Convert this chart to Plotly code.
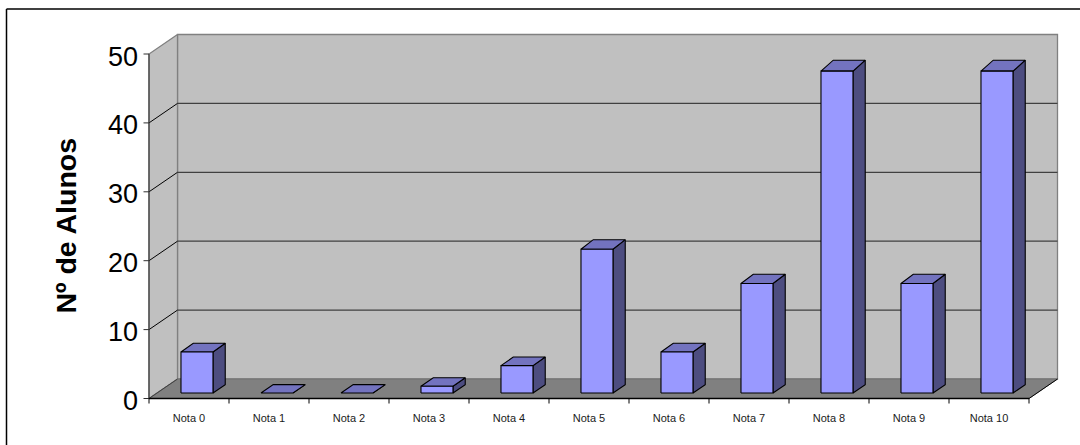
import plotly.graph_objects as go

# Chart data
categories = ["Nota 0", "Nota 1", "Nota 2", "Nota 3", "Nota 4", "Nota 5",
              "Nota 6", "Nota 7", "Nota 8", "Nota 9", "Nota 10"]
students = [6, 0, 0, 1, 4, 21, 6, 16, 47, 16, 47]
value_ticks = [0, 10, 20, 30, 40, 50]
axis_title = "Nº de Alunos"

# Pixel frame of the plotting region; the origin of the box sits inside it
WIDTH, HEIGHT = 1080, 445
LEFT, RIGHT, TOP, BOTTOM = 135.0, 1065.0, 25.0, 410.0
ORIGIN_X, ORIGIN_Y = 149.0, 398.5
PX_PER_CAT = 80.0
PX_PER_UNIT = 6.89

x_edge = -0.5
x_min = x_edge - (ORIGIN_X - LEFT) / PX_PER_CAT
x_max = x_edge + (RIGHT - ORIGIN_X) / PX_PER_CAT
y_min = -(BOTTOM - ORIGIN_Y) / PX_PER_UNIT
y_max = (ORIGIN_Y - TOP) / PX_PER_UNIT

# Oblique depth of the box, in axis units
DEPTH_X = 28.5 / PX_PER_CAT
DEPTH_Y = 19.5 / PX_PER_UNIT
# Bars sit part way into the depth of the floor
BAR_NEAR = 0.28
BAR_FAR = 0.71
BAR_WIDTH = 32.0 / PX_PER_CAT
# Slight perspective: near edges of a bar read shorter than far edges
NEAR_SCALE = 0.994
FAR_SCALE = 1.002
X_END = len(categories) - 0.5


def polygons(items):
    xs, ys = [], []
    for poly in items:
        for px, py in poly:
            xs.append(px)
            ys.append(py)
        xs.append(poly[0][0])
        ys.append(poly[0][1])
        xs.append(None)
        ys.append(None)
    return xs, ys


def fill_trace(items, fill, line_color, line_width=1.0):
    xs, ys = polygons(items)
    return go.Scatter(x=xs, y=ys, mode="lines", fill="toself", fillcolor=fill,
                      line=dict(color=line_color, width=line_width),
                      hoverinfo="skip", showlegend=False)


def line_trace(segments, color, width=1.0):
    xs, ys = [], []
    for seg in segments:
        for px, py in seg:
            xs.append(px)
            ys.append(py)
        xs.append(None)
        ys.append(None)
    return go.Scatter(x=xs, y=ys, mode="lines", line=dict(color=color, width=width),
                      hoverinfo="skip", showlegend=False)


top_val = value_ticks[-1]
fig = go.Figure()

# Walls and floor of the box
fig.add_trace(fill_trace([[(x_edge + DEPTH_X, DEPTH_Y), (X_END + DEPTH_X, DEPTH_Y),
                           (X_END + DEPTH_X, top_val + DEPTH_Y), (x_edge + DEPTH_X, top_val + DEPTH_Y)]],
                         "#C0C0C0", "#808080", 1.3))
fig.add_trace(fill_trace([[(x_edge, 0), (x_edge + DEPTH_X, DEPTH_Y),
                           (x_edge + DEPTH_X, top_val + DEPTH_Y), (x_edge, top_val)]],
                         "#C0C0C0", "#808080", 1.3))
fig.add_trace(fill_trace([[(x_edge, 0), (X_END, 0), (X_END + DEPTH_X, DEPTH_Y), (x_edge + DEPTH_X, DEPTH_Y)]],
                         "#808080", "#707070"))

# Gridlines across the back wall and down the side wall
grid_vals = [v for v in value_ticks if 0 < v < top_val]
fig.add_trace(line_trace([[(x_edge + DEPTH_X, v + DEPTH_Y), (X_END + DEPTH_X, v + DEPTH_Y)] for v in grid_vals],
                         "#404040", 1.3))
fig.add_trace(line_trace([[(x_edge, v), (x_edge + DEPTH_X, v + DEPTH_Y)] for v in grid_vals], "#000000"))

# Axis lines, tick marks and the floor's front edge
tick_x = [x_edge + i for i in range(len(categories) + 1)]
fig.add_trace(line_trace([[(x_edge, 0), (x_edge, top_val)]], "#404040", 1.2))
fig.add_trace(line_trace([[(x_edge, 0), (x_edge + DEPTH_X, DEPTH_Y)]], "#404040"))
fig.add_trace(line_trace([[(X_END, 0), (X_END + DEPTH_X, DEPTH_Y)]], "#000000"))
fig.add_trace(line_trace([[(x_edge, 0), (X_END, 0)]], "#000000", 1.4))
fig.add_trace(line_trace([[(x_edge - 5.5 / PX_PER_CAT, v), (x_edge, v)] for v in value_ticks], "#303030"))
fig.add_trace(line_trace([[(t, 0), (t, -5 / PX_PER_UNIT)] for t in tick_x], "#000000"))

# Bars: side, top and front faces, computed from the values
x0s = [i - BAR_WIDTH / 2 + DEPTH_X * BAR_NEAR for i in range(len(students))]
near_y = DEPTH_Y * BAR_NEAR
dx = DEPTH_X * (BAR_FAR - BAR_NEAR)
dy = DEPTH_Y * (BAR_FAR - BAR_NEAR)
sides, tops, fronts = [], [], []
for x0, v in zip(x0s, students):
    x1 = x0 + BAR_WIDTH
    y0 = near_y
    y1 = near_y + v * NEAR_SCALE
    y1_far = near_y + dy + v * FAR_SCALE
    sides.append([(x1, y0), (x1 + dx, y0 + dy), (x1 + dx, y1_far), (x1, y1)])
    tops.append([(x0, y1), (x1, y1), (x1 + dx, y1_far), (x0 + dx, y1_far)])
    if v > 0:
        fronts.append([(x0, y0), (x1, y0), (x1, y1), (x0, y1)])
fig.add_trace(fill_trace(sides, "#4D4D80", "#000000", 1.1))
fig.add_trace(fill_trace(tops, "#7373BF", "#000000", 1.1))
fig.add_trace(fill_trace(fronts, "#9999FF", "#000000", 1.1))

span_x = RIGHT - LEFT
span_y = BOTTOM - TOP


def paper_x(px):
    return (px - LEFT) / span_x


def paper_y(py):
    return (BOTTOM - py) / span_y


# Value labels sit a little below their tick marks
value_labels = [dict(text=str(v), x=x_edge, y=v, xref="x", yref="y", xanchor="right", yanchor="middle",
                     xshift=-9.5, yshift=-2.5, showarrow=False, font=dict(size=27, color="#000000"))
                for v in value_ticks]

fig.update_layout(
    width=WIDTH, height=HEIGHT,
    margin=dict(l=LEFT, r=WIDTH - RIGHT, t=TOP, b=HEIGHT - BOTTOM, pad=0, autoexpand=False),
    paper_bgcolor="#FFFFFF", plot_bgcolor="rgba(0,0,0,0)",
    showlegend=False,
    font=dict(family="Liberation Sans, Arial, sans-serif", color="#000000"),
    xaxis=dict(range=[x_min, x_max], tickvals=list(range(len(categories))), ticktext=categories,
               showgrid=False, zeroline=False, showline=False, ticks="",
               tickfont=dict(size=11, color="#1A1A1A"), ticklabelstandoff=0, tickangle=0, fixedrange=True),
    yaxis=dict(range=[y_min, y_max], showticklabels=False,
               showgrid=False, zeroline=False, showline=False, ticks="", fixedrange=True),
    # The frame shows only along the top and left, running off the canvas
    shapes=[dict(type="line", xref="paper", yref="paper", x0=paper_x(6.5), x1=paper_x(1080),
                 y0=paper_y(9), y1=paper_y(9), line=dict(color="#000000", width=1.5), layer="below"),
            dict(type="line", xref="paper", yref="paper", x0=paper_x(6.5), x1=paper_x(6.5),
                 y0=paper_y(9), y1=paper_y(445), line=dict(color="#000000", width=1.5), layer="below")],
    annotations=value_labels + [dict(text=f"<b>{axis_title}</b>", xref="paper", yref="paper",
                                     x=paper_x(65.5), y=paper_y(226),
                                     textangle=-90, showarrow=False, font=dict(size=28.5, color="#000000"),
                                     xanchor="center", yanchor="middle")],
)

fig.write_html("out.html")
